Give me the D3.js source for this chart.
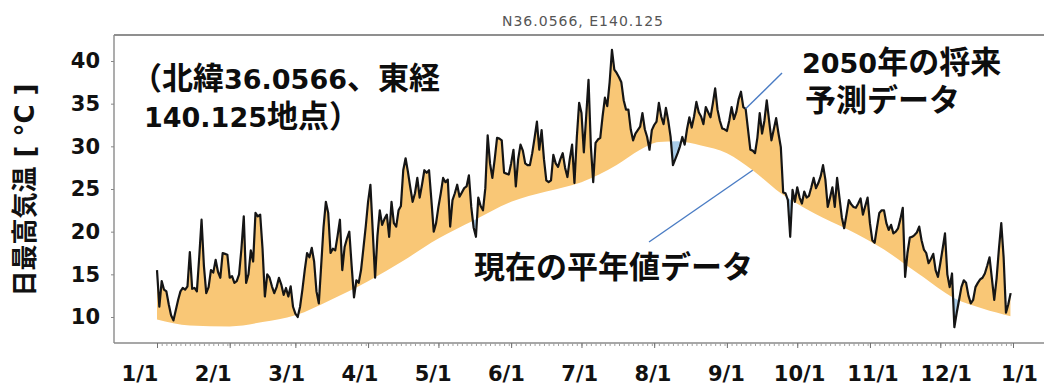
<!DOCTYPE html>
<html>
<head>
<meta charset="utf-8">
<script src="https://cdn.jsdelivr.net/npm/d3@7"></script>
<style>
  body { margin: 0; background: #fff; }
  svg { display: block; }
</style>
</head>
<body>
<svg id="chart" width="1044" height="387"></svg>
<script>
// Daily maximum temperature, 2050 projection (°C), Jan 1 .. Dec 31
const dailyMax2050 = [
  15.5, 11.2, 14.2, 13.2, 13.0, 11.5, 10.2, 9.6, 10.8, 12.0,
  13.0, 13.4, 13.2, 13.6, 17.6, 13.3, 13.4, 13.0, 17.0, 21.4,
  16.0, 12.8, 13.5, 15.5, 15.2, 16.7, 15.3, 14.6, 17.5, 17.4,
  17.3, 14.6, 14.8, 14.0, 14.2, 15.0, 18.0, 21.8, 14.0, 15.0,
  17.8, 16.5, 22.2, 21.8, 22.0, 18.0, 12.4, 15.0, 14.6, 13.6,
  12.8, 13.5, 14.6, 13.8, 12.6, 13.4, 12.4, 13.6, 11.2, 10.4,
  10.0, 11.2, 13.2, 15.5, 17.5, 17.0, 18.1, 16.5, 13.0, 11.6,
  16.0, 20.5, 23.5, 22.2, 17.5, 18.0, 17.8, 19.5, 21.4, 15.5,
  18.2, 19.2, 20.0, 16.0, 12.3, 14.3, 14.0, 15.5, 18.0, 20.6,
  23.5, 25.5, 20.0, 14.6, 19.5, 22.5, 20.8, 21.5, 22.0, 19.4,
  23.5, 21.0, 20.6, 22.5, 23.0, 27.2, 28.6, 27.0, 25.2, 23.5,
  24.5, 26.3, 24.0, 25.5, 27.2, 26.9, 27.2, 23.7, 20.0, 21.0,
  22.9, 24.5, 26.3, 25.8, 26.1, 20.6, 23.7, 24.5, 25.5, 24.1,
  24.6, 25.1, 25.3, 26.6, 22.9, 20.5, 19.4, 24.0, 23.0, 22.5,
  25.1, 31.3, 28.0, 26.3, 28.5, 31.0, 30.9, 30.7, 26.9, 26.8,
  26.7, 28.0, 29.6, 25.3, 28.5, 30.2, 29.5, 28.0, 27.8, 27.8,
  29.2, 31.0, 32.9, 29.6, 31.9, 28.5, 26.0, 25.8, 26.0, 29.0,
  28.0, 27.6, 28.5, 29.2, 27.5, 26.4, 28.5, 30.2, 25.7, 31.0,
  35.1, 33.9, 29.3, 33.5, 37.8, 30.0, 25.8, 30.4, 30.8, 31.0,
  33.5, 35.7, 34.7, 37.5, 41.3, 39.0, 38.6, 38.1, 37.5, 35.4,
  34.3, 34.3, 32.0, 30.7, 31.5, 31.9, 32.3, 33.9, 32.0, 31.1,
  29.6, 31.9, 32.5, 32.9, 35.1, 33.5, 32.6, 34.5, 33.0, 31.1,
  27.8, 28.5, 29.2, 30.0, 31.1, 30.2, 32.0, 33.4, 32.2, 33.5,
  35.2, 34.0, 33.5, 32.6, 34.6, 34.0, 33.4, 35.0, 36.8, 34.3,
  33.0, 32.1, 32.0, 31.8, 33.0, 34.6, 33.2, 34.0, 35.5, 36.4,
  34.6, 34.4, 32.0, 29.6, 29.5, 29.2, 31.0, 33.9, 31.5, 33.0,
  35.4, 33.0, 30.7, 32.0, 33.3, 31.5, 29.9, 24.6, 24.5, 23.7,
  19.4, 24.9, 23.5, 25.2, 24.0, 23.3, 24.7, 24.0, 24.2, 25.2,
  26.3, 25.1, 25.7, 26.5, 27.8, 26.1, 22.9, 24.0, 25.2, 22.9,
  26.3, 24.0, 21.7, 20.4, 22.0, 23.7, 23.2, 22.9, 22.8, 23.3,
  23.9, 22.0, 23.0, 24.0, 21.0, 19.0, 18.7, 20.5, 22.2, 22.5,
  22.5, 21.0, 20.2, 20.8, 19.8, 20.0, 20.4, 21.5, 22.8, 14.7,
  17.5, 19.3, 19.4, 19.6, 19.9, 20.6, 19.0, 17.9, 17.5, 16.3,
  16.8, 17.4, 15.5, 14.7, 16.3, 18.0, 19.8, 15.0, 13.5, 15.1,
  8.8, 10.5, 12.0, 13.5, 14.3, 14.0, 12.5, 11.6, 12.0, 13.5,
  14.0, 14.4, 14.6, 15.1, 16.0, 17.0, 14.5, 12.0, 14.5, 18.0,
  21.0, 17.0, 10.5, 11.5, 12.8
];

// Present-day normal: day of year and temperature (°C)
const normalDay  = [0, 14, 31, 45, 59, 74, 90, 105, 120, 135, 151, 166, 181, 196, 206, 214, 222, 232, 243, 254, 266, 280, 295, 310, 325, 340, 352, 364];
const normalTemp = [9.7, 9.0, 8.9, 9.4, 10.2, 12.0, 14.2, 16.6, 19.2, 21.3, 23.5, 24.7, 25.8, 27.8, 29.6, 30.5, 30.6, 30.1, 29.2, 27.2, 24.5, 22.2, 20.2, 17.9, 15.0, 12.2, 11.0, 10.1];

const monthLabels = ["1/1", "2/1", "3/1", "4/1", "5/1", "6/1", "7/1", "8/1", "9/1", "10/1", "11/1", "12/1", "1/1"];
const yTicks = [10, 15, 20, 25, 30, 35, 40];

const chartTitle = "N36.0566, E140.125";
const yLabel = "日最高気温 [ °C ]";
const siteNote = ["（北緯36.0566、東経", "140.125地点）"];
const futureNote = ["2050年の将来", "予測データ"];
const normalNote = ["現在の平年値データ"];

// ---- layout ----
const svg = d3.select("#chart");
const frame = { left: 114, top: 35, bottom: 343, right: 1070 };
const year0 = new Date(2050, 0, 1);
const dayOf = d => d3.timeDay.offset(year0, d);

const x = d3.scaleTime().domain([year0, new Date(2051, 0, 1)]).range([157, 1013]);
const y = d3.scaleLinear().domain([10, 40]).range([317, 61]);

const NUM_FONT = "'DejaVu Sans', sans-serif";
const JP_FONT = "'Noto Sans CJK JP', sans-serif";

const defs = svg.append("defs");
defs.append("clipPath").attr("id", "plotClip")
  .append("rect")
  .attr("x", frame.left).attr("y", frame.top)
  .attr("width", frame.right - frame.left).attr("height", frame.bottom - frame.top);

const normalIdx = d3.range(normalDay.length);
const nx = i => x(dayOf(normalDay[i]));
const ny = i => y(normalTemp[i]);

// regions above and below the normal curve
defs.append("clipPath").attr("id", "aboveNormal")
  .append("path")
  .attr("d", d3.area().x(nx).y0(frame.top).y1(ny).curve(d3.curveMonotoneX)(normalIdx));
defs.append("clipPath").attr("id", "belowNormal")
  .append("path")
  .attr("d", d3.area().x(nx).y0(frame.bottom).y1(ny).curve(d3.curveMonotoneX)(normalIdx));

const plot = svg.append("g").attr("clip-path", "url(#plotClip)");

const days = d3.range(dailyMax2050.length);
const fx = d => x(dayOf(d));
const fy = d => y(dailyMax2050[d]);

// warmer than normal: orange
plot.append("g").attr("clip-path", "url(#aboveNormal)")
  .append("path")
  .attr("fill", "#f9c776")
  .attr("d", d3.area().x(fx).y0(frame.bottom).y1(fy)(days));

// cooler than normal: light blue
plot.append("g").attr("clip-path", "url(#belowNormal)")
  .append("path")
  .attr("fill", "#a9cdea")
  .attr("d", d3.area().x(fx).y0(frame.top).y1(fy)(days));

// projected daily maximum
plot.append("path")
  .attr("fill", "none")
  .attr("stroke", "#151515")
  .attr("stroke-width", 2.2)
  .attr("stroke-linejoin", "round")
  .attr("d", d3.line().x(fx).y(fy)(days));

// frame
svg.append("line").attr("x1", frame.left).attr("x2", frame.right)
  .attr("y1", frame.top).attr("y2", frame.top)
  .attr("stroke", "#6a6a6a").attr("stroke-width", 1.6);
svg.append("line").attr("x1", frame.left).attr("x2", frame.left)
  .attr("y1", frame.top).attr("y2", frame.bottom)
  .attr("stroke", "#8a8a8a").attr("stroke-width", 1.4);
svg.append("line").attr("x1", frame.left).attr("x2", frame.right)
  .attr("y1", frame.bottom).attr("y2", frame.bottom)
  .attr("stroke", "#8a8a8a").attr("stroke-width", 1.4);

// x axis ticks
const monthDates = d3.timeMonth.range(year0, new Date(2051, 0, 2));
const xMinor = svg.append("g").attr("transform", `translate(0,${frame.bottom})`)
  .call(d3.axisBottom(x).ticks(d3.timeDay.every(2)).tickSize(3).tickFormat(""));
xMinor.select(".domain").remove();
xMinor.selectAll("line").attr("stroke", "#a0a0a0");
const xMajor = svg.append("g").attr("transform", `translate(0,${frame.bottom})`)
  .call(d3.axisBottom(x).tickValues(monthDates).tickSize(5).tickFormat(""));
xMajor.select(".domain").remove();
xMajor.selectAll("line").attr("stroke", "#707070");

// month labels
const labelPos = d3.scalePoint().domain(d3.range(monthLabels.length)).range([140, 1019.5]);
svg.append("g").selectAll("text").data(monthLabels).join("text")
  .attr("x", (d, i) => labelPos(i))
  .attr("y", 381)
  .attr("text-anchor", "middle")
  .attr("font-family", NUM_FONT)
  .attr("font-weight", "bold")
  .attr("font-size", 21)
  .attr("fill", "#111")
  .text(d => d);

// y axis
const yAxis = svg.append("g").attr("transform", `translate(${frame.left},0)`)
  .call(d3.axisLeft(y).tickValues(yTicks).tickSize(3).tickPadding(11));
yAxis.select(".domain").remove();
yAxis.selectAll("line").attr("stroke", "#888");
yAxis.selectAll("text")
  .attr("font-family", NUM_FONT)
  .attr("font-weight", "bold")
  .attr("font-size", 21)
  .attr("fill", "#111");

svg.append("text")
  .attr("transform", "translate(34,190) rotate(-90)")
  .attr("text-anchor", "middle")
  .attr("font-family", "'DejaVu Sans', 'Noto Sans CJK JP', sans-serif")
  .attr("font-weight", "bold")
  .attr("font-size", 26)
  .attr("fill", "#111")
  .text(yLabel);

// title
svg.append("text")
  .attr("x", 583).attr("y", 26)
  .attr("text-anchor", "middle")
  .attr("font-family", "'DejaVu Sans', sans-serif")
  .attr("font-size", 14)
  .attr("letter-spacing", 1)
  .attr("fill", "#555")
  .text(chartTitle);

// notes: one text block per note, one row per line;
// digits set in a geometric sans, kana/kanji in a CJK face
const note = (lines, x0s, y0, lh) => {
  const txt = svg.append("text")
    .attr("x", x0s[0]).attr("y", y0)
    .attr("font-weight", "bold")
    .attr("fill", "#0d0d0d");
  lines.forEach((t, i) => {
    const runs = t.match(/[0-9.]+|[^0-9.]+/g);
    runs.forEach((r, j) => {
      const isNum = /^[0-9.]+$/.test(r);
      const sp = txt.append("tspan")
        .attr("font-family", isNum ? NUM_FONT : JP_FONT)
        .attr("font-size", isNum ? 27 : 31)
        .text(r);
      if (j === 0) sp.attr("x", x0s[i]).attr("y", y0 + i * lh);
    });
  });
};
note(siteNote, [131, 144], 89, 38);
note(futureNote, [802, 805], 73, 38);
note(normalNote, [474], 278, 0);

// leader lines
const futureAnchor = 251;
svg.append("line")
  .attr("x1", 782).attr("y1", 73)
  .attr("x2", fx(futureAnchor)).attr("y2", fy(futureAnchor))
  .attr("stroke", "#4a7cc4").attr("stroke-width", 1.4);
const normalAnchor = 19;
svg.append("line")
  .attr("x1", 649).attr("y1", 242)
  .attr("x2", nx(normalAnchor)).attr("y2", ny(normalAnchor))
  .attr("stroke", "#4a7cc4").attr("stroke-width", 1.4);
</script>
</body>
</html>
